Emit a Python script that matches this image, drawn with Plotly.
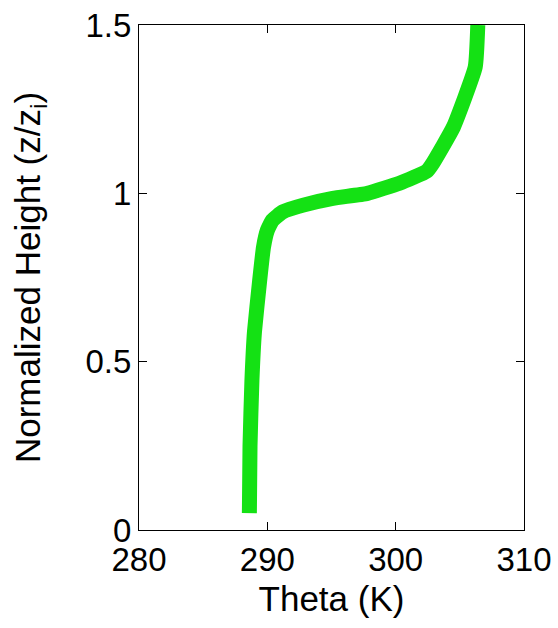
import plotly.graph_objects as go

theta = [288.6, 288.65, 288.8, 289.0, 289.4, 289.7, 290.0, 290.4, 291.2, 292.8,
         295.1, 297.8, 300.3, 302.4, 302.9, 304.5, 306.2, 306.4]
z_norm = [0.05, 0.25, 0.445, 0.59, 0.74, 0.84, 0.89, 0.92, 0.945, 0.965,
          0.985, 1.0, 1.03, 1.065, 1.09, 1.197, 1.375, 1.5]

x_ticks = [280, 290, 300, 310]
y_ticks = [0, 0.5, 1, 1.5]
y_ticklabels = ["0", "0.5", "1", "1.5"]

FONT = "Liberation Sans, Arial, sans-serif"

fig = go.Figure()
fig.add_trace(go.Scatter(
    x=theta, y=z_norm, mode="lines",
    line=dict(color="rgb(20,225,20)", width=15, shape="spline", smoothing=0.4),
    showlegend=False, hoverinfo="skip"))

axis_common = dict(
    showgrid=False, zeroline=False, showline=True, linecolor="black", linewidth=1,
    mirror="ticks", ticks="inside", ticklen=8, tickcolor="black", tickwidth=1,
    tickfont=dict(family=FONT, size=33, color="black"), automargin=False,
)

fig.update_layout(
    width=558, height=628,
    margin=dict(l=139, r=34, t=25, b=98),
    paper_bgcolor="white", plot_bgcolor="white",
    font=dict(family=FONT, size=33, color="black"),
    xaxis=dict(range=[280, 310], tickvals=x_ticks,
               title=dict(text="Theta (K)", font=dict(family=FONT, size=35), standoff=9),
               **axis_common),
    yaxis=dict(range=[0, 1.5], tickvals=y_ticks, ticktext=y_ticklabels,
               title=dict(text="Normalized Height (z/z<sub>i</sub>)", font=dict(family=FONT, size=35), standoff=34),
               **axis_common),
)

fig.write_html("out.html")
